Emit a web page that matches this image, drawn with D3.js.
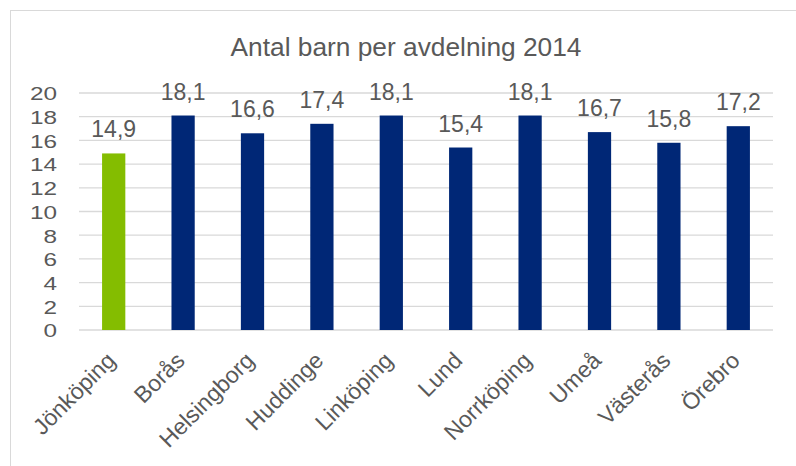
<!DOCTYPE html>
<html>
<head>
<meta charset="utf-8">
<script src="https://cdn.jsdelivr.net/npm/d3@7"></script>
<style>
  body { margin: 0; background: #fff; }
  text { font-family: "Liberation Sans", Arial, sans-serif; fill: #595959; }
</style>
</head>
<body>
<div class="chart"></div>
<script>
// data
var cities = ["Jönköping", "Borås", "Helsingborg", "Huddinge", "Linköping", "Lund", "Norrköping", "Umeå", "Västerås", "Örebro"];
var values = [14.9, 18.1, 16.6, 17.4, 18.1, 15.4, 18.1, 16.7, 15.8, 17.2];
var valueLabels = ["14,9", "18,1", "16,6", "17,4", "18,1", "15,4", "18,1", "16,7", "15,8", "17,2"];
var yTicks = [0, 2, 4, 6, 8, 10, 12, 14, 16, 18, 20];
var title = "Antal barn per avdelning 2014";

var svgWidth = 796;
var svgHeight = 466;

var margin = { top: 93, right: 23, bottom: 136, left: 79 };
var width = svgWidth - margin.left - margin.right;
var height = svgHeight - margin.top - margin.bottom;

var svg = d3.select(".chart")
  .append("svg")
  .attr("width", svgWidth)
  .attr("height", svgHeight);

// chart frame (only top and left edges fall inside the picture)
svg.append("rect")
  .attr("x", 10.5)
  .attr("y", 10.5)
  .attr("width", 800)
  .attr("height", 500)
  .attr("fill", "none")
  .attr("stroke", "#d9d9d9")
  .attr("stroke-width", 1);

var chartGroup = svg.append("g")
  .attr("transform", `translate(${margin.left}, ${margin.top})`);

var x = d3.scaleBand()
  .domain(cities)
  .range([0, width])
  .paddingInner(0.665)
  .paddingOuter(0.3325);

var y = d3.scaleLinear()
  .domain([0, 20])
  .range([height, 0]);

// gridlines
chartGroup.selectAll(".grid")
  .data(yTicks)
  .enter()
  .append("line")
  .attr("x1", 0)
  .attr("x2", width)
  .attr("y1", d => y(d))
  .attr("y2", d => y(d))
  .attr("stroke", "#d9d9d9")
  .attr("stroke-width", 1.3);

// y axis
var leftAxis = d3.axisLeft(y).tickValues(yTicks).tickSize(0).tickPadding(22);
var yAxis = chartGroup.append("g").call(leftAxis);
yAxis.select(".domain").remove();
yAxis.selectAll("text")
  .attr("font-size", "19px")
  .attr("dy", "0.36em")
  .attr("fill", "#595959")
  .each(function() {
    // the tick numbers are drawn a bit wider than normal in the original
    var w = this.getComputedTextLength();
    d3.select(this).attr("textLength", w * 1.28).attr("lengthAdjust", "spacingAndGlyphs");
  });

// bars
chartGroup.selectAll(".bar")
  .data(values)
  .enter()
  .append("rect")
  .attr("x", (d, i) => x(cities[i]))
  .attr("y", d => y(d))
  .attr("width", x.bandwidth())
  .attr("height", d => height - y(d))
  .attr("fill", (d, i) => i === 0 ? "#84bd00" : "#002776");

// value labels
chartGroup.selectAll(".val")
  .data(values)
  .enter()
  .append("text")
  .attr("x", (d, i) => x(cities[i]) + x.bandwidth() / 2)
  .attr("y", d => y(d) - 16)
  .attr("text-anchor", "middle")
  .attr("font-size", "23px")
  .text((d, i) => valueLabels[i]);

// x labels, rotated
chartGroup.selectAll(".xlab")
  .data(cities)
  .enter()
  .append("text")
  .attr("transform", d => `translate(${x(d) + x.bandwidth() / 2 + 3}, ${height + 32}) rotate(-45)`)
  .attr("text-anchor", "end")
  .attr("font-size", "23px")
  .text(d => d);

// title
svg.append("text")
  .attr("x", 406)
  .attr("y", 56)
  .attr("text-anchor", "middle")
  .attr("font-size", "26.3px")
  .text(title);
</script>
</body>
</html>
